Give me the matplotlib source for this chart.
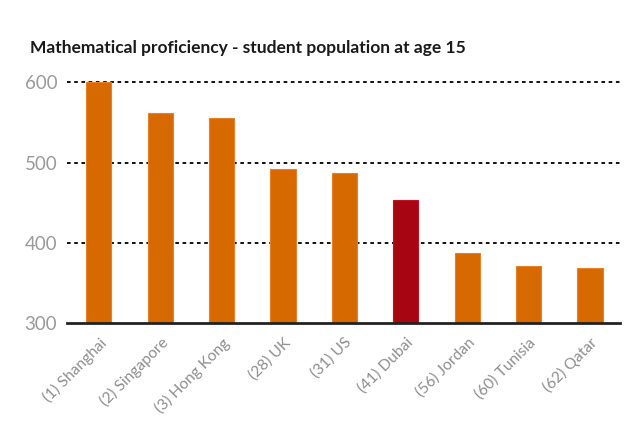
import matplotlib
matplotlib.use("Agg")
import matplotlib.pyplot as plt

categories = ["(1) Shanghai", "(2) Singapore", "(3) Hong Kong", "(28) UK", "(31) US",
              "(41) Dubai", "(56) Jordan", "(60) Tunisia", "(62) Qatar"]
scores = [600, 562, 555, 492, 487, 453, 387, 371, 368]
highlight = "(41) Dubai"
yticks = [300, 400, 500, 600]
title = "Mathematical proficiency - student population at age 15"

plt.rcParams["font.family"] = ["Lato", "DejaVu Sans"]

fig = plt.figure(figsize=(6.4, 4.22), dpi=100)
ax = fig.add_axes([67/640, 1 - 322.7/422, (620-67)/640, (322.7-80)/422])

colors = ["#A80513" if c == highlight else "#D66A00" for c in categories]
edges = ["#C4101E" if c == highlight else "#E8802A" for c in categories]
x = list(range(len(categories)))
ax.bar(x, scores, width=0.41, color=colors, edgecolor=edges, linewidth=0.8,
       bottom=0, zorder=3)

ax.set_ylim(300, 603)
ax.set_xlim(-0.52, 8.49)
ax.set_yticks(yticks)
ax.set_yticklabels([str(v) for v in yticks], color="#9A9A9A", fontsize=13.5)
ax.set_xticks(x)
ax.set_xticklabels(categories, rotation=45, ha="right", va="top",
                   rotation_mode="anchor", color="#8E8E8E", fontsize=11.2)
ax.tick_params(axis="both", length=0)
ax.tick_params(axis="y", pad=7)
ax.tick_params(axis="x", pad=9)

for v in yticks[1:]:
    ax.axhline(v, color="black", linestyle=(0, (2, 2)), linewidth=1.3, zorder=1)

for s in ["top", "right", "left"]:
    ax.spines[s].set_visible(False)
ax.spines["bottom"].set_color("#222222")
ax.spines["bottom"].set_linewidth(2)
ax.spines["bottom"].set_zorder(4)

fig.text(30/640, 1 - 48/422, title, fontsize=12.5, fontweight="bold",
         color="#1a1a1a", ha="left", va="center")

fig.savefig("out.png", dpi=100, facecolor="white")
